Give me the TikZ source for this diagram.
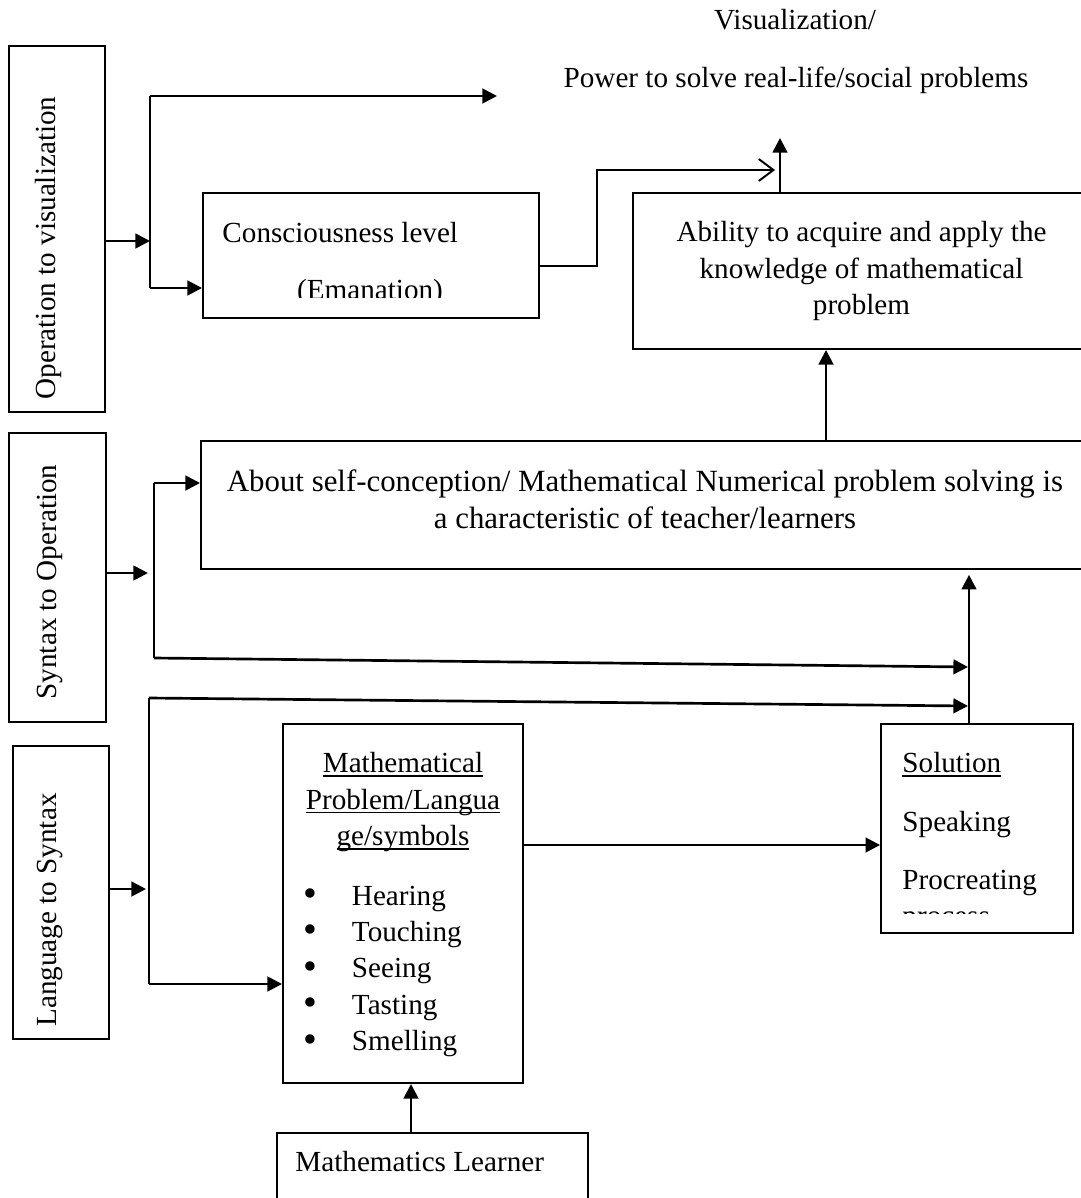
\documentclass[tikz,border=0pt]{standalone}
\usepackage{fontspec}
\setmainfont{Liberation Serif}
\usetikzlibrary{arrows.meta}
\tikzset{>={Triangle[length=6pt,width=6pt]}}
\newcommand{\sensebullet}{\makebox[20pt][l]{\raisebox{-0.6pt}{\scalebox{1.35}{\textbullet}}}}
\newcommand{\wordline}[1]{\leavevmode{\setbox0\hbox{#1}\rlap{\rule[-1.7pt]{\wd0}{0.6pt}}\box0}}

\begin{document}
\begin{tikzpicture}[x=0.4117pt,y=-0.4117pt,
  font=\fontsize{12}{15}\selectfont,
  box/.style={draw,line width=0.8pt,inner sep=0pt},
  sidetext/.style={rotate=90,inner sep=0pt},
  arr/.style={->,line width=1.1pt},
  link/.style={line width=1.1pt},
  openarr/.style={-{Straight Barb[length=6pt,width=9pt]},line width=0.8pt}]
  \useasboundingbox (0,0) rectangle (1081,1198);

  % Side labels
  \node[box,minimum width=39.5pt,minimum height=150.7pt] (opbox) at (57,229) {};
  \node[sidetext] (optext) at (48,248) {Operation to visualization};
  \node[box,minimum width=39.9pt,minimum height=119pt] (synbox) at (57.5,577.5) {};
  \node[sidetext] (syntext) at (50,582) {Syntax to Operation};
  \node[box,minimum width=39.5pt,minimum height=120.6pt] (langbox) at (61,892.5) {};
  \node[sidetext] (langtext) at (50,910) {Language to Syntax};

  % Top goal
  \node (vistitle) at (795,20) {Visualization/};
  \node (vispower) at (796,80) {Power to solve real-life/social problems};

  % Boxes
  \node[box,minimum width=138.3pt,minimum height=51.5pt] (consbox) at (371,255.5) {};
  \begin{scope}
    \clip (205,195) rectangle (537,297);
    \node[anchor=west,inner sep=0pt] (constext) at (222,233) {Consciousness level};
    \node (emantext) at (370,292) {(Emanation)};
  \end{scope}
  \node[box,minimum width=188.1pt,minimum height=64.2pt,align=center] (abilbox) at (861.5,271)
    {Ability to acquire and apply the\\knowledge of mathematical\\problem};
  \node[box,minimum width=366pt,minimum height=52.7pt] (aboutbox) at (645.5,505) {};
  \node[align=center,font=\fontsize{12.7}{15.2}\selectfont] (abouttext) at (645,499)
    {About self-conception/ Mathematical Numerical problem solving is\\a characteristic of teacher/learners};
  \node[box,minimum width=98.8pt,minimum height=147.8pt] (mathbox) at (403,903.5) {};
  \node[anchor=north,inner sep=0pt,text width=82pt,align=left] (mathtext) at (403,752) {%
    {\centering\wordline{Mathematical}\\\wordline{Problem/Langua}\\\wordline{ge/symbols}\par}
    \vspace{9.5pt}
    \sensebullet Hearing\\
    \sensebullet Touching\\
    \sensebullet Seeing\\
    \sensebullet Tasting\\
    \sensebullet Smelling};
  \node[box,minimum width=79pt,minimum height=86pt] (solbox) at (977,828.5) {};
  \begin{scope}
    \clip (883,726) rectangle (1071,913);
    \node[anchor=north west,inner sep=0pt,align=left] (soltext) at (902,752)
      {\wordline{Solution}\\[9pt]Speaking\\[9pt]Procreating\\process};
  \end{scope}
  \node[box,minimum width=128pt,minimum height=31.7pt] (learnbox) at (432.5,1171.5) {};
  \node[anchor=west,inner sep=0pt] (learntext) at (295,1162) {Mathematics Learner};

  % Operation to visualization
  \coordinate (opjn) at (150,241);
  \coordinate (optop) at (150,96);
  \coordinate (opbot) at (150,288);
  \coordinate (rawtip) at (497,96);
  \draw[arr] (opbox.east |- opjn) -- (opjn);
  \draw[link] (optop) -- (opbot);
  \draw[arr] (optop) -- (rawtip);
  \draw[arr] (opbot) -- (opbot -| consbox.west);

  % Emanation up to the goal
  \coordinate (jogtip) at (775,170);
  \coordinate (vistip) at (780,138);
  \draw[openarr] (consbox.east |- 0,266) -| (597,170) -- (jogtip);
  \draw[arr] (abilbox.north -| vistip) -- (vistip);
  \draw[arr] (aboutbox.north -| 826,0) -- (abilbox.south -| 826,0);

  % Syntax to Operation
  \coordinate (synjn) at (148,573);
  \coordinate (syntop) at (154,483);
  \coordinate (synbot) at (154,658);
  \coordinate (mergeA) at (968,667);
  \draw[arr] (synbox.east |- synjn) -- (synjn);
  \draw[link] (syntop) -- (synbot);
  \draw[arr] (syntop) -- (syntop -| aboutbox.west);
  \draw[arr] (synbot) -- (mergeA);

  % Language to Syntax
  \coordinate (langjn) at (146,889);
  \coordinate (langtop) at (149,698);
  \coordinate (langbot) at (149,984);
  \coordinate (mergeB) at (968,706);
  \draw[arr] (langbox.east |- langjn) -- (langjn);
  \draw[link] (langtop) -- (langbot);
  \draw[arr] (langtop) -- (mergeB);
  \draw[arr] (langbot) -- (langbot -| mathbox.west);

  % Problem to solution
  \draw[arr] (mathbox.east |- 0,845) -- (solbox.west |- 0,845);
  \draw[arr,shorten >=2pt] (solbox.north -| 969,0) -- (aboutbox.south -| 969,0);
  \draw[arr] (learnbox.north -| 411,0) -- (mathbox.south -| 411,0);
\end{tikzpicture}
\end{document}
